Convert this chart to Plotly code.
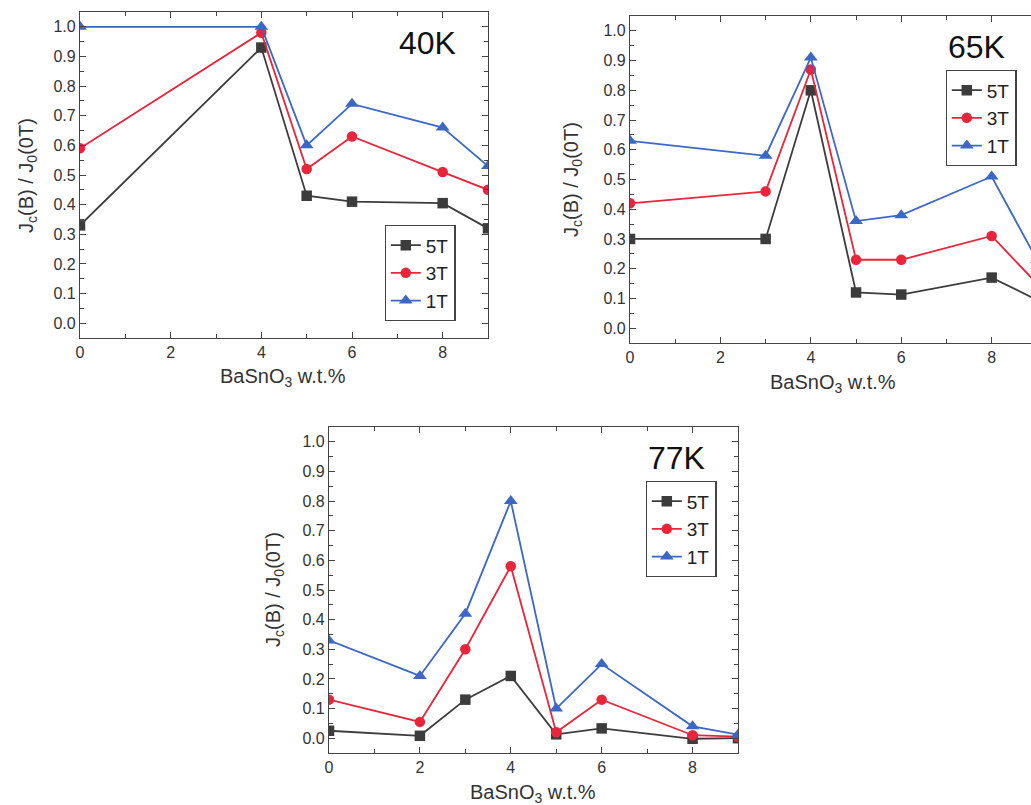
import plotly.graph_objects as go

# ---- data ----
x40 = [0, 4, 5, 6, 8, 9]
t5_40 = [0.33, 0.93, 0.43, 0.41, 0.405, 0.32]
t3_40 = [0.59, 0.98, 0.52, 0.63, 0.51, 0.45]
t1_40 = [1.0, 1.0, 0.60, 0.74, 0.66, 0.53]

x65 = [0, 3, 4, 5, 6, 8, 9]
t5_65 = [0.30, 0.30, 0.80, 0.12, 0.113, 0.17, 0.095]
t3_65 = [0.42, 0.46, 0.87, 0.23, 0.23, 0.31, 0.15]
t1_65 = [0.63, 0.58, 0.91, 0.36, 0.38, 0.51, 0.23]

x77 = [0, 2, 3, 4, 5, 6, 8, 9]
t5_77 = [0.025, 0.008, 0.13, 0.21, 0.013, 0.033, -0.002, 0.0]
t3_77 = [0.13, 0.055, 0.30, 0.58, 0.02, 0.13, 0.01, 0.005]
t1_77 = [0.33, 0.21, 0.42, 0.80, 0.10, 0.25, 0.04, 0.012]

series_names = ["5T", "3T", "1T"]
panel_labels = ["40K", "65K", "77K"]
x_ticks = [0, 2, 4, 6, 8]
y_ticks = [0.0, 0.1, 0.2, 0.3, 0.4, 0.5, 0.6, 0.7, 0.8, 0.9, 1.0]

colors = ["#3c3c3c", "#e8253a", "#3b67c6"]
symbols = ["square", "circle", "triangle-up"]

W, H = 1031, 805
FONT = "Liberation Sans, Arial, sans-serif"

fig = go.Figure()

panels = [
    dict(x=x40, ys=[t5_40, t3_40, t1_40], xa="x", ya="y", leg="legend"),
    dict(x=x65, ys=[t5_65, t3_65, t1_65], xa="x2", ya="y2", leg="legend2"),
    dict(x=x77, ys=[t5_77, t3_77, t1_77], xa="x3", ya="y3", leg="legend3"),
]

for p in panels:
    for name, yv, c, s in zip(series_names, p["ys"], colors, symbols):
        fig.add_trace(go.Scatter(
            x=p["x"], y=yv, name=name, mode="lines+markers",
            line=dict(color=c, width=1.8),
            marker=dict(symbol=s, size=10.5 if s != "triangle-up" else 12, color=c),
            xaxis=p["xa"], yaxis=p["ya"], legend=p["leg"],
        ))

def px_x(v):
    return v / W

def px_y(v):
    return 1 - v / H

doms = [
    dict(x=[px_x(80), px_x(488)], y=[px_y(338), px_y(12)], xr=[0, 9], mirror_y="allticks"),
    dict(x=[px_x(630), 1.0], y=[px_y(343), px_y(16)], xr=[0, 8.87], mirror_y=False),
    dict(x=[px_x(329), px_x(738)], y=[px_y(753), px_y(427)], xr=[0, 9], mirror_y="allticks"),
]

axis_common = dict(
    showline=True, linecolor="#444", linewidth=1.3,
    ticks="inside", ticklen=6, tickwidth=1.2, tickcolor="#444",
    tickfont=dict(family=FONT, size=16, color="#333"),
    showgrid=False, zeroline=False, automargin=False,
)

for i, d in enumerate(doms):
    sfx = "" if i == 0 else str(i + 1)
    xa = dict(axis_common, domain=d["x"], range=d["xr"], anchor="y" + sfx,
              tickvals=x_ticks, mirror="allticks",
              minor=dict(tickvals=[1, 3, 5, 7], ticks="inside", ticklen=3.5, tickcolor="#444", tickwidth=1))
    ya = dict(axis_common, domain=d["y"], range=[-0.05, 1.05], anchor="x" + sfx,
              tickvals=y_ticks, tickformat=".1f",
              mirror=d["mirror_y"],
              minor=dict(tickvals=[round(0.05 + 0.1 * k, 2) for k in range(10)], ticks="inside", ticklen=3.5, tickcolor="#444", tickwidth=1))
    fig.update_layout({"xaxis" + sfx: xa, "yaxis" + sfx: ya})

xtitle = "BaSnO<sub>3</sub> w.t.%"
ytitle = "J<sub>c</sub>(B) / J<sub>0</sub>(0T)"
xtitle_pos = [(283, 378), (833, 383), (533, 793)]
ytitle_pos = [(27, 176), (573, 180), (274, 590)]
for (xx, xy), (yx, yy) in zip(xtitle_pos, ytitle_pos):
    fig.add_annotation(text=xtitle, x=px_x(xx), y=px_y(xy), xref="paper", yref="paper",
                       showarrow=False, xanchor="center", yanchor="middle",
                       font=dict(family=FONT, size=20, color="#333"))
    fig.add_annotation(text=ytitle, x=px_x(yx), y=px_y(yy), xref="paper", yref="paper",
                       showarrow=False, xanchor="center", yanchor="middle", textangle=-90,
                       font=dict(family=FONT, size=20, color="#333"))

leg_common = dict(
    bgcolor="white", bordercolor="#444", borderwidth=1.3,
    font=dict(family=FONT, size=19, color="#222"),
    xanchor="center", yanchor="middle", tracegroupgap=0, itemwidth=30,
)
fig.update_layout(
    legend=dict(leg_common, x=px_x(420), y=px_y(273)),
    legend2=dict(leg_common, x=px_x(981), y=px_y(118)),
    legend3=dict(leg_common, x=px_x(681), y=px_y(529)),
)

label_pos = [(427, 43), (976, 47), (676, 458)]
for lab, (lx, ly) in zip(panel_labels, label_pos):
    fig.add_annotation(text=lab, x=px_x(lx), y=px_y(ly), xref="paper", yref="paper",
                       showarrow=False, xanchor="center", yanchor="middle",
                       font=dict(family=FONT, size=32, color="#111"))

fig.update_layout(
    template="none",
    width=W, height=H,
    margin=dict(l=0, r=0, t=0, b=0),
    paper_bgcolor="white", plot_bgcolor="white",
    showlegend=True,
)

fig.write_html("out.html", config={"displayModeBar": False},
               post_script="document.body.style.margin='0';document.body.style.overflow='hidden';")
